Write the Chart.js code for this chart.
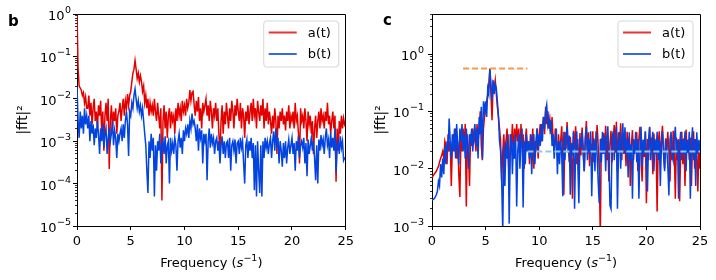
<!DOCTYPE html>
<html>
<head>
<meta charset="utf-8">
<script src="https://cdn.jsdelivr.net/npm/chart.js@4"></script>
<style>
  body { margin: 0; background: #fff; }
  #wrap { position: relative; width: 716px; height: 280px; }
  .panel { position: absolute; top: 0; width: 358px; height: 280px; }
</style>
</head>
<body>
<div id="wrap">
  <div class="panel" style="left:0"><canvas id="chartB" width="358" height="280"></canvas></div>
  <div class="panel" style="left:358px"><canvas id="chartC" width="358" height="280"></canvas></div>
</div>
<script>
// frequency bins, 0 .. 25 s^-1, step 0.1
var freq = [];
for (var i = 0; i <= 250; i++) freq.push(i / 10);

// panel b : |fft|^2 of a(t)
var aLeft = [
  1.2, 5e-2, 2e-2, 1.8e-2, 1.6e-2, 1.2e-2, 1.4e-2, 8e-3, 1.1e-2, 6e-3,
  6e-3, 1.2e-2, 4e-3, 8e-3, 2.5e-3, 6e-3, 1e-2, 3e-3, 5e-3, 2e-3,
  7e-3, 4e-3, 9e-3, 1.5e-3, 5e-3, 6e-4, 4e-3, 8e-3, 3e-3, 1e-2,
  2.2e-4, 3e-3, 7e-3, 2e-3, 5e-3, 3e-3, 6e-3, 1.5e-3, 4e-3, 5e-3,
  8e-3, 3e-3, 6e-3, 1e-2, 4e-3, 9e-3, 6e-3, 1.3e-2, 7e-3, 1.2e-2,
  1.5e-2, 2.5e-2, 4e-2, 5e-2, 8e-2, 5e-2, 3e-2, 4e-2, 2.5e-2, 3.5e-2,
  2.5e-2, 1.5e-2, 2e-2, 8e-3, 1.2e-2, 6e-3, 1e-2, 4e-3, 8e-3, 5e-3,
  7e-3, 4e-3, 1e-2, 5e-3, 3e-3, 8e-3, 4e-3, 2e-3, 6e-3, 4e-5,
  3e-3, 7e-3, 2e-3, 5e-3, 1.2e-3, 4e-3, 6e-3, 2e-3, 5e-3, 3e-3,
  4e-3, 1.5e-3, 6e-3, 3e-3, 8e-3, 4e-3, 6e-3, 3e-3, 9e-3, 5e-3,
  7e-3, 4e-3, 1e-2, 6e-3, 8e-3, 1.6e-2, 9e-3, 1.4e-2, 1.5e-2, 7e-3,
  4e-3, 9e-3, 5e-3, 1.1e-2, 3e-3, 6e-3, 2e-3, 8e-3, 5e-3, 7e-3,
  1e-2, 4e-3, 7e-3, 3e-3, 9e-3, 5e-3, 2e-3, 6e-3, 4e-3, 8e-3,
  3e-3, 6e-3, 1.5e-3, 4.5e-4, 3e-3, 7e-3, 1.5e-3, 5e-3, 2.5e-3, 8e-3,
  4e-3, 2e-3, 6e-3, 3e-3, 9e-3, 5e-3, 2e-3, 7e-3, 4e-3, 1e-2,
  5e-3, 3e-3, 8e-3, 2e-3, 6e-3, 4e-3, 1.2e-3, 5e-3, 3e-3, 7e-3,
  2.5e-3, 5e-3, 8e-3, 3e-3, 1e-2, 4e-3, 6e-3, 2e-3, 9e-3, 5e-3,
  3e-3, 7e-3, 4e-3, 1e-2, 2e-3, 6e-3, 3e-3, 8e-3, 2.5e-3, 5e-3,
  3e-3, 1.5e-3, 4e-3, 2e-3, 6e-3, 3e-3, 5e-4, 4e-3, 2e-3, 5e-3,
  3e-3, 6e-3, 2.5e-3, 4e-3, 1.8e-3, 5e-3, 3e-3, 7e-3, 2e-3, 4e-3,
  3e-3, 5e-3, 2e-3, 8e-3, 3e-3, 4e-3, 1.5e-3, 3e-4, 6e-3, 3e-3,
  4e-3, 2e-3, 6e-3, 3e-3, 1e-3, 5e-3, 2.5e-3, 4e-3, 1.5e-3, 3e-3,
  5e-4, 2e-3, 4e-3, 1.2e-3, 3e-3, 5e-3, 2e-3, 6e-3, 3e-3, 4e-3,
  2e-3, 5e-3, 3e-3, 8e-3, 2.5e-3, 4e-3, 1.5e-3, 3e-3, 5e-3, 2e-3,
  4e-3, 1.1e-4, 2e-3, 6e-4, 3e-3, 1.5e-3, 4e-3, 2e-3, 3.5e-3, 2.5e-3,
  3e-3
];
// panel b : |fft|^2 of b(t)
var bLeft = [
  2e-2, 3e-3, 1.2e-3, 5e-3, 2e-3, 4e-3, 1.5e-3, 6e-3, 2.5e-3, 4e-3,
  2e-3, 4e-3, 1e-3, 3e-3, 1.5e-3, 2.5e-3, 8e-4, 2e-3, 1.2e-3, 3e-3,
  1.5e-3, 5e-4, 2e-3, 1e-3, 2.5e-3, 7e-4, 1.5e-3, 2e-3, 5e-4, 1.2e-3,
  2e-3, 1e-3, 1.5e-3, 3e-3, 8e-4, 1.8e-3, 1.2e-3, 4e-4, 1.5e-3, 1e-3,
  1.5e-3, 2e-3, 1e-3, 2.5e-3, 1.2e-3, 3e-3, 5e-3, 2.5e-3, 4.5e-4, 5e-3,
  4e-3, 8e-3, 6e-3, 1.2e-2, 1.7e-2, 1e-2, 6e-3, 9e-3, 5e-3, 7e-3,
  4e-3, 6e-3, 3e-3, 1.5e-3, 8e-4, 2e-4, 6e-5, 1e-3, 4e-4, 1.5e-3,
  6e-4, 1.2e-3, 5e-5, 8e-4, 2e-4, 1e-3, 6e-4, 1.5e-3, 3e-4, 8e-4,
  1e-3, 5e-4, 1.3e-3, 3e-4, 8e-4, 1e-3, 1e-4, 1.2e-3, 6e-4, 9e-4,
  5e-4, 1.2e-3, 8e-4, 2e-4, 1e-3, 1.5e-3, 7e-4, 1.2e-3, 5e-4, 1.8e-3,
  1e-3, 2e-3, 1.5e-3, 2.5e-3, 1.2e-3, 3e-3, 2e-3, 4.5e-3, 2.5e-3, 3e-3,
  2e-3, 1e-3, 2.5e-3, 6e-4, 2e-3, 1.2e-3, 1.8e-3, 3e-4, 1.5e-3, 1e-3,
  1.5e-3, 1.2e-4, 1e-3, 2e-3, 7e-4, 1.5e-3, 9e-4, 1.2e-3, 5e-4, 1e-3,
  1.2e-3, 6e-4, 1e-3, 3e-4, 8e-4, 1.3e-3, 5e-4, 1e-3, 4e-4, 9e-4,
  1e-3, 4e-4, 1.2e-3, 2e-4, 8e-4, 1e-3, 6e-4, 1.1e-3, 3e-4, 9e-4,
  1e-3, 5e-4, 1.2e-3, 7e-4, 1e-3, 3e-4, 1e-4, 8e-4, 1.1e-3, 4e-4,
  1e-3, 6e-4, 1.2e-3, 4e-4, 9e-4, 7e-5, 8e-4, 5e-5, 1e-3, 2e-4,
  6e-5, 8e-4, 5e-5, 1e-3, 4e-4, 1.2e-3, 7e-4, 1e-3, 5e-4, 9e-4,
  1.2e-3, 4e-4, 1e-3, 1.7e-3, 6e-4, 2e-3, 8e-4, 1.2e-3, 3e-4, 1e-3,
  6e-4, 2.5e-4, 9e-4, 4e-4, 1e-3, 3e-4, 7e-4, 1.1e-3, 5e-4, 8e-4,
  1.2e-3, 5e-4, 9e-4, 2e-4, 1e-3, 6e-4, 1.3e-3, 4e-4, 8e-4, 1e-3,
  7e-4, 1.2e-3, 3e-4, 9e-4, 1.5e-4, 1.1e-3, 5e-4, 8e-4, 1.2e-3, 6e-4,
  1e-3, 4e-4, 1.2e-4, 8e-4, 1e-4, 1.1e-3, 6e-4, 1.4e-3, 8e-4, 1.1e-3,
  5e-4, 1.2e-3, 2e-3, 8e-4, 1.1e-3, 4e-4, 1.6e-3, 7e-4, 1.2e-3, 6e-4,
  2e-3, 1.8e-4, 8e-4, 1e-3, 5e-4, 1.3e-3, 7e-4, 1e-3, 3.5e-4, 4e-4,
  4e-4
];
// panel c : |fft|^2 of a(t)
var aRight = [
  7e-3, 7.5e-3, 8e-3, 8.5e-3, 9e-3, 1e-2, 1.1e-2, 1.3e-2, 1.5e-2, 1.7e-2,
  2e-2, 1.5e-2, 3e-2, 2.5e-2, 1.2e-2, 4e-2, 2e-2, 3e-2, 5e-3, 2.5e-2,
  4e-2, 2e-2, 5e-2, 1.5e-2, 3e-2, 8e-3, 3.2e-3, 4e-2, 2e-2, 5e-2,
  2.5e-2, 6e-2, 2.2e-3, 4e-2, 2e-2, 5e-3, 4e-2, 2.5e-2, 5e-2, 3e-2,
  4e-2, 2e-2, 6e-2, 3e-2, 5e-2, 1e-1, 2.5e-2, 1.4e-2, 5e-2, 8e-2,
  1e-1, 1.5e-1, 2e-1, 3e-1, 5.6e-1, 2e-1, 7e-2, 3e-1, 2.5e-1, 3.5e-1,
  2e-1, 1.2e-1, 8e-2, 5e-2, 3e-2, 6e-3, 2e-2, 4e-2, 1.5e-2, 3e-2,
  5e-2, 2e-2, 6e-3, 4e-2, 2.5e-2, 6e-2, 1.5e-2, 5e-2, 3e-2, 6e-2,
  3e-2, 5e-2, 1.5e-2, 6e-2, 2.5e-2, 4e-2, 1e-2, 3e-2, 5e-2, 2e-2,
  3e-2, 1.2e-2, 4e-2, 2e-2, 5e-2, 1e-2, 3e-2, 2e-2, 5e-2, 1.5e-2,
  4e-2, 6e-2, 3e-2, 5e-2, 8e-2, 4e-2, 1.2e-1, 6e-2, 1e-1, 5e-2,
  7e-2, 4e-2, 8e-2, 3e-2, 2e-2, 5e-2, 3e-2, 1.5e-2, 4e-2, 2e-2,
  3e-2, 5.5e-2, 1.8e-2, 3.5e-3, 4.4e-2, 2.2e-2, 6.5e-2, 2.8e-2, 1.3e-2, 3.6e-2,
  1.8e-2, 3e-3, 4.6e-2, 2.2e-2, 5.5e-2, 1.2e-2, 3.3e-2, 7e-3, 4.2e-2, 1.7e-2,
  5.2e-2, 2.4e-2, 9e-3, 3.4e-2, 6.8e-2, 1.8e-2, 4.3e-2, 1.1e-2, 2.7e-2, 1.9e-2,
  4.5e-2, 1.3e-2, 3.2e-2, 2.1e-2, 5.8e-2, 2.6e-2, 9e-3, 7e-4, 3.4e-2, 1.8e-2,
  4.2e-2, 2.2e-2, 5.6e-2, 1.4e-2, 3.1e-2, 6e-3, 2.7e-2, 4.6e-2, 1.3e-2, 3.3e-2,
  5.8e-2, 1.9e-2, 6.6e-2, 9e-3, 4.3e-2, 2.1e-2, 6.2e-2, 1.4e-2, 3.5e-2, 1.8e-2,
  3.2e-2, 1.1e-2, 4.4e-2, 2.2e-2, 3.6e-2, 5e-3, 2.6e-2, 4.7e-2, 1.4e-2, 3.1e-2,
  2.2e-2, 4.3e-2, 9e-3, 3.3e-2, 5.4e-2, 1.8e-2, 6e-3, 3.2e-2, 1.6e-2, 4.4e-2,
  2.5e-3, 3.3e-2, 1.4e-2, 5.2e-2, 2.2e-2, 3.5e-2, 8e-3, 4.1e-2, 1.8e-2, 2.9e-2,
  1.8e-3, 2.7e-2, 4.5e-2, 1.3e-2, 3.3e-2, 5.6e-2, 1.9e-2, 1e-2, 3.4e-2, 2.1e-2,
  4.4e-2, 1.8e-2, 6e-3, 3.3e-2, 1.4e-2, 4.6e-2, 2.2e-2, 3e-3, 3.5e-2, 1.4e-2,
  3.3e-2, 2.7e-3, 2.2e-2, 4.4e-2, 1.2e-2, 3.4e-2, 5e-3, 4.8e-2, 1.9e-2, 3.2e-2,
  1.4e-2, 3.5e-2, 5e-3, 2.7e-2, 4.5e-2, 1e-2, 3.3e-2, 1.9e-2, 4e-3, 2.6e-2,
  1e-2
];
// panel c : |fft|^2 of b(t)
var bRight = [
  2.8e-3, 2.9e-3, 3e-3, 3.2e-3, 3.5e-3, 4e-3, 6e-3, 5e-3, 1.2e-2, 7e-3,
  1.5e-2, 8e-3, 2.5e-2, 1.2e-2, 3e-2, 2e-2, 7.5e-2, 3e-2, 1.5e-2, 4e-2,
  2e-2, 5e-2, 1.5e-2, 6e-2, 2.5e-2, 1.2e-2, 5e-2, 3e-2, 6e-2, 2e-2,
  4e-2, 1.5e-2, 5e-2, 2.5e-2, 1e-2, 4e-2, 3e-2, 5e-2, 2e-2, 4e-2,
  6e-2, 2.5e-2, 5e-2, 1.5e-2, 8e-2, 4e-2, 1.2e-1, 1.5e-2, 1.5e-1, 1e-1,
  1.5e-1, 8e-2, 2.5e-1, 2e-1, 5.5e-1, 3e-1, 1.5e-1, 3.5e-1, 2e-1, 3e-1,
  2.5e-1, 1.5e-1, 8e-2, 3e-2, 2e-2, 6e-3, 8e-4, 2.5e-2, 5e-3, 3e-2,
  1.5e-2, 4e-2, 1.1e-3, 2e-2, 4e-2, 8e-3, 3e-2, 1.5e-2, 4e-2, 2.2e-3,
  2e-2, 4e-2, 1e-2, 3e-2, 5e-2, 2.1e-3, 3e-2, 1.2e-2, 4e-2, 2e-2,
  3e-2, 1.5e-2, 4e-2, 8e-3, 2.5e-2, 4e-2, 1.2e-2, 3e-2, 5e-2, 2e-2,
  4e-2, 2.5e-2, 6e-2, 3e-2, 8e-2, 5e-2, 1e-1, 1.3e-1, 6e-2, 8e-2,
  5e-2, 7e-2, 2.5e-2, 4e-2, 1.5e-2, 3e-2, 5e-2, 8e-3, 3e-2, 1.2e-2,
  3.2e-2, 1.8e-2, 3.3e-3, 4.4e-2, 1.4e-2, 3.3e-2, 5.4e-2, 1.9e-2, 3.8e-2, 3.5e-3,
  2.8e-2, 1.7e-2, 4.3e-2, 2e-3, 2.6e-2, 4.5e-2, 1.3e-2, 2.5e-3, 3.4e-2, 2.3e-2,
  4.4e-2, 1.8e-2, 9e-3, 3.2e-2, 5.4e-2, 1.4e-2, 3.3e-2, 1.9e-2, 4.5e-2, 3.3e-3,
  2.2e-2, 3.4e-2, 9e-3, 4.5e-2, 1.8e-2, 6e-3, 2.5e-3, 3.3e-2, 1.3e-2, 4.4e-2,
  1.8e-2, 3.8e-2, 9e-3, 3.2e-2, 5.5e-2, 1.7e-2, 2.3e-3, 2e-3, 3.3e-2, 4.5e-2,
  1.4e-2, 3.3e-2, 5.4e-2, 2e-3, 2.2e-2, 4.4e-2, 1e-2, 3.2e-2, 6.2e-2, 1.8e-2,
  5.3e-2, 1.8e-2, 3.3e-2, 7e-3, 4.3e-2, 1.4e-2, 2.7e-2, 3e-3, 3.3e-2, 1.8e-2,
  4.4e-2, 1.3e-2, 3.3e-2, 3e-3, 2.2e-2, 5.4e-2, 1.1e-2, 3.2e-2, 1.8e-2, 4.5e-2,
  1.8e-2, 4e-3, 3.2e-2, 5.4e-2, 1.4e-2, 2.7e-2, 4.4e-2, 9e-3, 3.3e-2, 1.8e-2,
  4.4e-2, 1.4e-2, 3.2e-2, 5e-3, 2.7e-2, 4.5e-2, 1.8e-2, 9e-3, 3.3e-2, 2.2e-2,
  1.1e-2, 3.4e-3, 3.2e-2, 4.4e-2, 1.8e-2, 1.4e-2, 3.3e-2, 5.4e-2, 1.8e-2, 3.2e-2,
  3e-3, 2.7e-2, 4.4e-2, 1.4e-2, 3.3e-2, 1.8e-2, 4.5e-2, 9e-3, 3.2e-2, 1.9e-2,
  4.4e-2, 3e-3, 2.7e-2, 5.3e-2, 1.4e-2, 3.3e-2, 5e-3, 4.3e-2, 1.8e-2, 3.2e-2,
  2e-2
];

// reference levels in panel c (peak height, noise floor)
var peakSpan = [2.9, 8.9], peakLevel = 0.56;
var noiseSpan = [8.9, 25], noiseLevel = 0.02;

// tick values and labels (labels are 10 raised to these exponents)
var xTicks = [0, 5, 10, 15, 20, 25];
var leftTicks = [1e-5, 1e-4, 1e-3, 1e-2, 1e-1, 1];
var leftTickExp = ['−5', '−4', '−3', '−2', '−1', '0'];
var rightTicks = [1e-3, 1e-2, 1e-1, 1];
var rightTickExp = ['−3', '−2', '−1', '0'];
var seriesNames = ['a(t)', 'b(t)'];

var RED = '#e50000', BLUE = '#0343df';
var FONT = 'DejaVu Sans';

function pts(vals) {
    return vals.map(function (v, i) { return {x: freq[i], y: v}; });
}

// spines on top/right, minor log ticks, y tick labels, x title, legend box, panel letter
var decor = {
    id: 'decor',
    afterDraw: function (chart, args, o) {
        var ctx = chart.ctx, a = chart.chartArea, ys = chart.scales.y;
        var L = Math.round(a.left - 0.5) + 0.5, R = Math.round(a.right - 0.5) + 0.5;
        var T = Math.round(a.top - 0.5) + 0.5, B = Math.round(a.bottom - 0.5) + 0.5;
        ctx.save();
        ctx.strokeStyle = '#000';
        ctx.lineWidth = 1;
        ctx.beginPath();
        ctx.moveTo(L, T); ctx.lineTo(R, T); ctx.lineTo(R, B);
        ctx.stroke();
        // minor ticks
        ctx.lineWidth = 0.8;
        ctx.beginPath();
        o.ticks.forEach(function (d) {
            for (var k = 2; k <= 9; k++) {
                var v = d * k;
                if (v > ys.max) break;
                var py = Math.round(ys.getPixelForValue(v) - 0.5) + 0.5;
                ctx.moveTo(L - 2.5, py); ctx.lineTo(L, py);
            }
        });
        ctx.stroke();
        // y tick labels 10^n
        ctx.fillStyle = '#000';
        ctx.textAlign = 'left';
        ctx.textBaseline = 'alphabetic';
        o.ticks.forEach(function (v, i) {
            var py = ys.getPixelForValue(v);
            ctx.font = '9.5px "' + FONT + '"';
            var wE = ctx.measureText(o.exp[i]).width;
            ctx.font = '13px "' + FONT + '"';
            var wB = ctx.measureText('10').width;
            var xr = a.left - o.labelGap;
            ctx.fillText('10', xr - wE - wB - 0.5, py + 6);
            ctx.font = '9.5px "' + FONT + '"';
            ctx.fillText(o.exp[i], xr - wE, py - 1);
        });
        // x title: Frequency (s^-1)
        var parts = [
            {t: 'Frequency (', f: '13px "' + FONT + '"', dy: 0},
            {t: 's', f: 'italic 13px "' + FONT + '"', dy: 0},
            {t: '−1', f: '9.5px "' + FONT + '"', dy: -5.5},
            {t: ')', f: '13px "' + FONT + '"', dy: 0}
        ];
        var tw = 0;
        parts.forEach(function (p) { ctx.font = p.f; p.w = ctx.measureText(p.t).width; tw += p.w; });
        var tx = (a.left + a.right) / 2 - tw / 2;
        parts.forEach(function (p) { ctx.font = p.f; ctx.fillText(p.t, tx, 266.5 + p.dy); tx += p.w; });
        // legend
        var w = 75, h = 46, bx = a.right - 7 - w, by = a.top + 7, r = 3;
        ctx.beginPath();
        ctx.moveTo(bx + r, by); ctx.lineTo(bx + w - r, by);
        ctx.arcTo(bx + w, by, bx + w, by + r, r); ctx.lineTo(bx + w, by + h - r);
        ctx.arcTo(bx + w, by + h, bx + w - r, by + h, r); ctx.lineTo(bx + r, by + h);
        ctx.arcTo(bx, by + h, bx, by + h - r, r); ctx.lineTo(bx, by + r);
        ctx.arcTo(bx, by, bx + r, by, r); ctx.closePath();
        ctx.fillStyle = 'rgba(255,255,255,0.8)';
        ctx.fill();
        ctx.strokeStyle = '#d6d6d6';
        ctx.lineWidth = 1;
        ctx.stroke();
        var cols = ['#ea3333', '#3569e5'];
        ctx.font = '13px "' + FONT + '"';
        ctx.textBaseline = 'middle';
        for (var j = 0; j < 2; j++) {
            var ly = by + 11.5 + j * 21.5;
            ctx.strokeStyle = cols[j];
            ctx.lineWidth = 2;
            ctx.beginPath();
            ctx.moveTo(bx + 5, ly); ctx.lineTo(bx + 33, ly);
            ctx.stroke();
            ctx.fillStyle = '#000';
            ctx.fillText(seriesNames[j], bx + 44, ly + 1);
        }
        // panel letter
        ctx.font = 'bold 15px "' + FONT + '"';
        ctx.textBaseline = 'alphabetic';
        ctx.fillText(o.letter, o.letterX, o.letterY);
        ctx.restore();
    }
};

function makeChart(el, cfg) {
    var tickFont = {family: FONT, size: 13};
    var datasets = [
        {label: seriesNames[0], data: pts(cfg.a), borderColor: RED, borderWidth: 1.5, order: 2},
        {label: seriesNames[1], data: pts(cfg.b), borderColor: BLUE, borderWidth: 1.5, order: 1}
    ].concat(cfg.extra || []);
    return new Chart(document.getElementById(el), {
        type: 'line',
        data: {datasets: datasets},
        options: {
            responsive: false,
            animation: false,
            events: [],
            layout: {padding: {left: 0, top: 14, right: cfg.padRight, bottom: 0}},
            elements: {point: {radius: 0}, line: {tension: 0}},
            plugins: {
                legend: {display: false},
                tooltip: {enabled: false},
                decor: {ticks: cfg.ticks, exp: cfg.exp, labelGap: cfg.labelGap,
                        letter: cfg.letter, letterX: cfg.letterX, letterY: cfg.letterY}
            },
            scales: {
                x: {
                    type: 'linear', min: 0, max: 25,
                    afterFit: function (s) { s.height = 54; },
                    afterBuildTicks: function (s) { s.ticks = xTicks.map(function (v) { return {value: v}; }); },
                    grid: {drawOnChartArea: false, tickLength: 4, tickColor: '#000', tickWidth: 1},
                    border: {color: '#000', width: 1},
                    ticks: {font: tickFont, color: '#000', padding: 4, maxRotation: 0, autoSkip: false}
                },
                y: {
                    type: 'logarithmic', min: cfg.ymin, max: cfg.ymax,
                    afterFit: function (s) { s.width = cfg.yWidth; },
                    afterBuildTicks: function (s) { s.ticks = cfg.ticks.map(function (v) { return {value: v, major: true}; }); },
                    grid: {drawOnChartArea: false, tickLength: 4, tickColor: '#000', tickWidth: 1},
                    border: {color: '#000', width: 1},
                    ticks: {display: false},
                    title: {display: true, text: '|fft|²', font: {family: FONT, size: 13.5}, color: '#000', padding: {top: 15, bottom: 0}}
                }
            }
        },
        plugins: [decor]
    });
}

// panel b
makeChart('chartB', {
    a: aLeft, b: bLeft, ymin: 1e-5, ymax: 1,
    ticks: leftTicks, exp: leftTickExp, labelGap: 6,
    yWidth: 77, padRight: 12, letter: 'b', letterX: 8, letterY: 26
});

// panel c, with the dashed reference levels
makeChart('chartC', {
    a: aRight, b: bRight, ymin: 1e-3, ymax: 5,
    ticks: rightTicks, exp: rightTickExp, labelGap: 8,
    yWidth: 74, padRight: 16, letter: 'c', letterX: 25, letterY: 25,
    extra: [
        {data: [{x: peakSpan[0], y: peakLevel}, {x: peakSpan[1], y: peakLevel}],
         borderColor: '#f7994a', borderWidth: 2, borderDash: [6, 3], order: 0},
        {data: [{x: noiseSpan[0], y: noiseLevel}, {x: noiseSpan[1], y: noiseLevel}],
         borderColor: '#8fc8ee', borderWidth: 2, borderDash: [6, 3], order: 0}
    ]
});
</script>
</body>
</html>
